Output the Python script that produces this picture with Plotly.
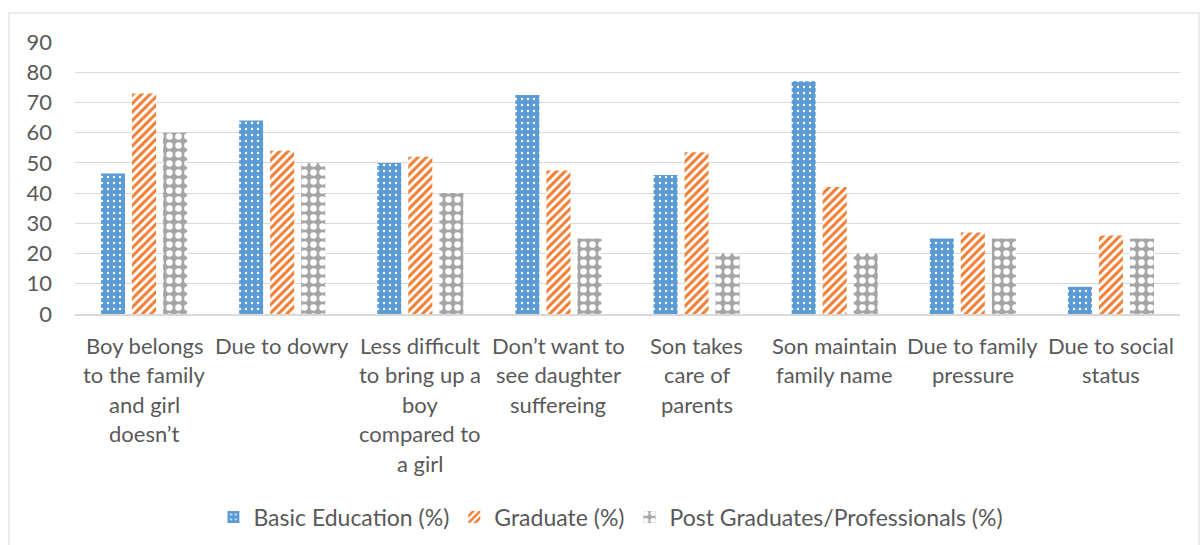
import plotly.graph_objects as go

# Reasons for son preference, by respondent education level
categories = [
    "Boy belongs\nto the family\nand girl\ndoesn’t",
    "Due to dowry",
    "Less difficult\nto bring up a\nboy\ncompared to\na girl",
    "Don’t want to\nsee daughter\nsuffereing",
    "Son takes\ncare of\nparents",
    "Son maintain\nfamily name",
    "Due to family\npressure",
    "Due to social\nstatus",
]
basic_education = [46.5, 64, 50, 72.5, 46, 77, 25, 9]
graduate = [73, 54, 52, 47.5, 53.5, 42, 27, 26]
post_graduates = [60, 50, 40, 25, 20, 20, 25, 25]
y_ticks = [0, 10, 20, 30, 40, 50, 60, 70, 80, 90]

W, H = 1201, 545
L, R, T, B = 75, 21, 42, 231
plot_h = H - T - B

TEXT = "#595959"
GRID = "#D9D9D9"
FONT = "Lato"

x_idx = list(range(len(categories)))

fig = go.Figure()
fig.add_trace(go.Bar(
    name="Basic Education (%)", x=x_idx, y=basic_education,
    marker=dict(color="#5B9BD5", line=dict(width=0),
                pattern=dict(shape=".", fgcolor="white", bgcolor="#5B9BD5",
                             size=6, solidity=0.12, fillmode="replace")),
))
fig.add_trace(go.Bar(
    name="Graduate (%)", x=x_idx, y=graduate,
    marker=dict(color="#ED7D31", line=dict(width=0),
                pattern=dict(shape="/", fgcolor="#ED7D31", bgcolor="white",
                             size=6, solidity=0.5, fillmode="replace")),
))
fig.add_trace(go.Bar(
    name="Post Graduates/Professionals (%)", x=x_idx, y=post_graduates,
    marker=dict(color="#A5A5A5", line=dict(width=0),
                pattern=dict(shape=".", fgcolor="white", bgcolor="#A5A5A5",
                             size=9, solidity=0.42, fillmode="replace")),
))

# Multi-line category labels, one annotation per line
for i, label in enumerate(categories):
    for j, line in enumerate(label.split("\n")):
        fig.add_annotation(
            x=i, xref="x", y=-(31 + 29.5 * j) / plot_h, yref="paper",
            text=line, showarrow=False, xanchor="center", yanchor="middle",
            font=dict(family=FONT, size=22, color=TEXT),
        )

# Outer chart frame
fig.add_shape(
    type="rect", xref="paper", yref="paper",
    x0=(9 - L) / (W - L - R), x1=(1199 - L) / (W - L - R),
    y0=-2, y1=(plot_h + T - 13) / plot_h,
    line=dict(color=GRID, width=1), fillcolor="rgba(0,0,0,0)", layer="below",
)

fig.update_layout(
    width=W, height=H,
    margin=dict(l=L, r=R, t=T, b=B, autoexpand=False),
    paper_bgcolor="white", plot_bgcolor="white",
    barmode="group", bargap=0.326, bargroupgap=0.226,
    font=dict(family=FONT, size=22, color=TEXT),
    showlegend=True,
    legend=dict(orientation="h", x=0.485, xanchor="center",
                y=(314 - 517) / plot_h, yanchor="middle",
                font=dict(family=FONT, size=23, color=TEXT),
                itemwidth=30, traceorder="normal"),
    xaxis=dict(range=[-0.5, len(categories) - 0.5], showticklabels=False,
               showgrid=False, showline=True, linecolor=GRID, linewidth=1.5,
               ticks="", zeroline=False, fixedrange=True),
    yaxis=dict(range=[0, 90], tickvals=y_ticks, showgrid=True, gridcolor=GRID,
               gridwidth=1.3, zeroline=False, showline=False, ticks="",
               ticklabelstandoff=22,
               tickfont=dict(family=FONT, size=22, color=TEXT)),
)

fig.write_html("out.html")
